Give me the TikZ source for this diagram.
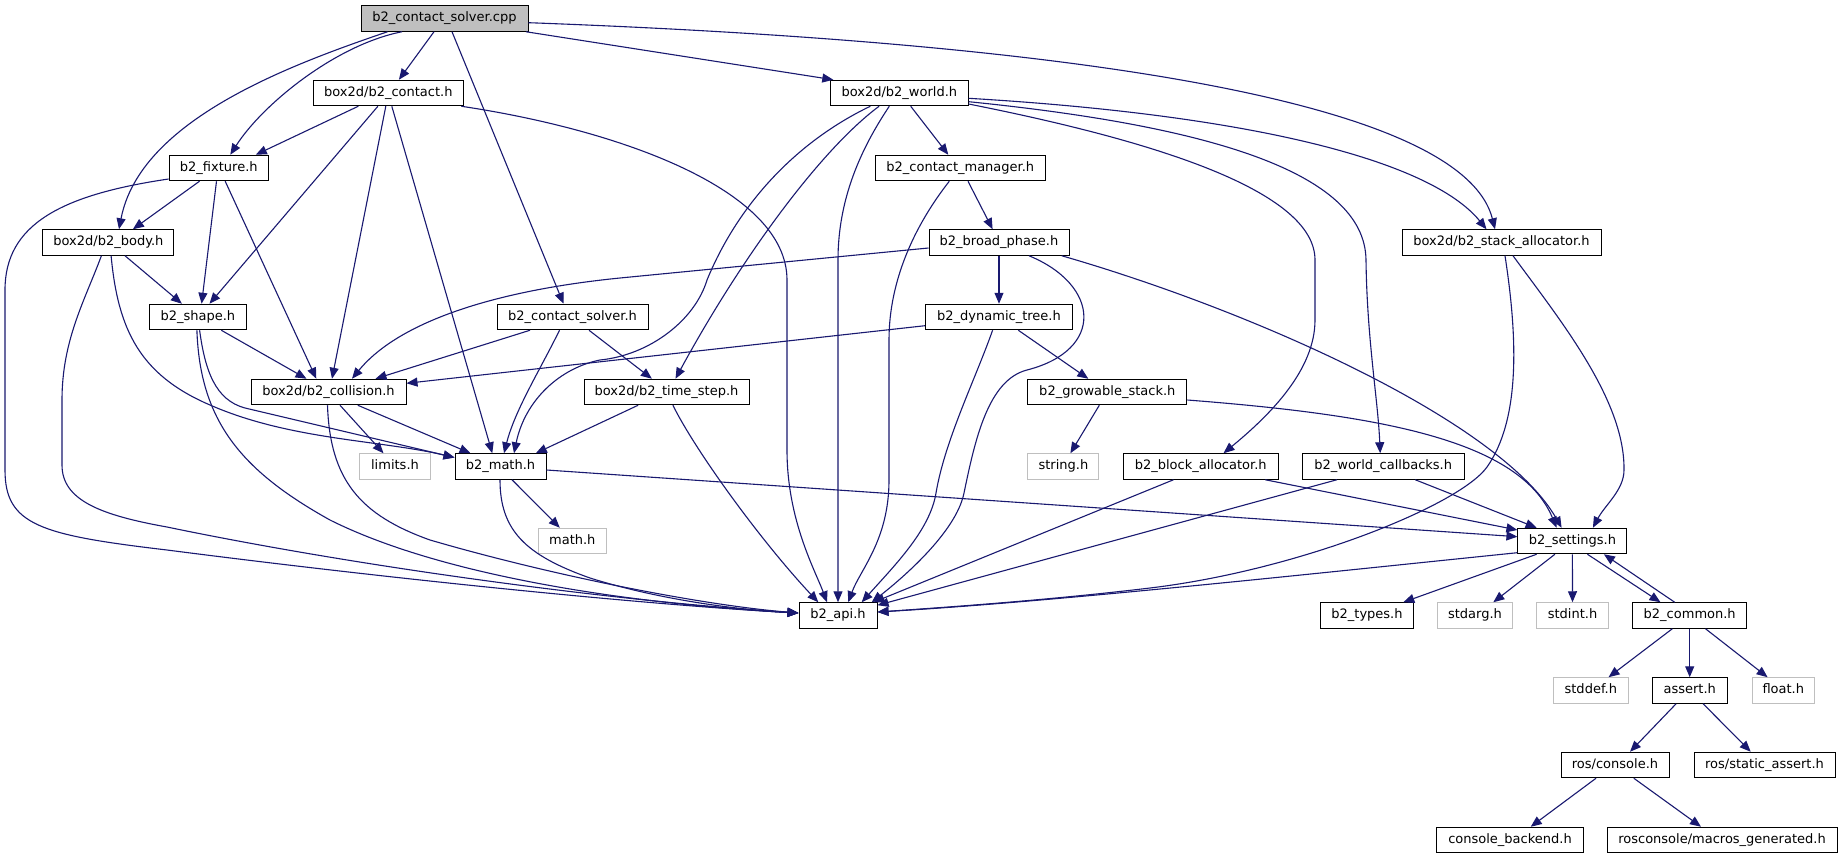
\documentclass[tikz,border=0pt]{standalone}
\usepackage{fontspec}
\setmainfont{DejaVu Sans}
\usetikzlibrary{arrows.meta}

\definecolor{midnight}{HTML}{191970}
\definecolor{grey75}{HTML}{BFBFBF}

\tikzset{
  file/.style={draw=black, fill=white, line width=1pt, inner xsep=2pt, inner ysep=0pt,
    text height=9.5pt, text depth=3pt, minimum height=25.5pt,
    font=\fontsize{13}{15}\selectfont},
  sysfile/.style={file, draw=grey75},
  root/.style={file, fill=grey75},
  dep/.style={draw=midnight, line width=1.1pt, -{Triangle[length=11pt,width=9pt]}},
  links/.style={every edge/.style={dep}},
}

\begin{document}
\begin{tikzpicture}[x=1pt, y=-1pt]
\fill[white] (0,0) rectangle (1842,859);
\useasboundingbox (0,0) rectangle (1842,859);

% files, row by row
\node[root, minimum width=167pt]    (cpp)       at (444.5,18.5) {b2\_contact\_solver.cpp};

\node[file, minimum width=149.5pt]  (contact)   at (388.3,93)   {box2d/b2\_contact.h};
\node[file, minimum width=137.6pt]  (world)     at (899.3,93)   {box2d/b2\_world.h};

\node[file, minimum width=99.5pt]   (fixture)   at (218.8,168)  {b2\_fixture.h};
\node[file, minimum width=169.6pt]  (cmgr)      at (960.3,168)  {b2\_contact\_manager.h};

\node[file, minimum width=131pt]    (body)      at (108.4,242.5) {box2d/b2\_body.h};
\node[file, minimum width=140pt]    (broad)     at (999,242.5)   {b2\_broad\_phase.h};
\node[file, minimum width=199pt]    (stack)     at (1501.5,242.5) {box2d/b2\_stack\_allocator.h};

\node[file, minimum width=97pt]     (shape)     at (197.9,317)  {b2\_shape.h};
\node[file, minimum width=151pt]    (csolver)   at (572.5,317)  {b2\_contact\_solver.h};
\node[file, minimum width=147pt]    (dtree)     at (999,317)    {b2\_dynamic\_tree.h};

\node[file, minimum width=155pt]    (collision) at (328.5,392)  {box2d/b2\_collision.h};
\node[file, minimum width=165pt]    (tstep)     at (666.5,392)  {box2d/b2\_time\_step.h};
\node[file, minimum width=159pt]    (growable)  at (1107.3,392) {b2\_growable\_stack.h};

\node[sysfile, minimum width=71pt]  (limits)    at (395,466.5)    {limits.h};
\node[file, minimum width=91pt]     (bmath)     at (500.5,466.5)  {b2\_math.h};
\node[sysfile, minimum width=71pt]  (stringh)   at (1063.4,466.5) {string.h};
\node[file, minimum width=155pt]    (block)     at (1200.7,466.5) {b2\_block\_allocator.h};
\node[file, minimum width=162pt]    (wcb)       at (1383.2,466.5) {b2\_world\_callbacks.h};

\node[sysfile, minimum width=68.6pt] (mathh)    at (572.3,541)  {math.h};
\node[file, minimum width=109pt]    (settings)  at (1572.4,541) {b2\_settings.h};

\node[file, minimum width=78pt]     (api)       at (838,615.5)    {b2\_api.h};
\node[file, minimum width=93pt]     (types)     at (1367,615.5)   {b2\_types.h};
\node[sysfile, minimum width=75pt]  (stdarg)    at (1475,615.5)   {stdarg.h};
\node[sysfile, minimum width=71.5pt] (stdint)   at (1572.5,615.5) {stdint.h};
\node[file, minimum width=114.5pt]  (common)    at (1689.7,615.5) {b2\_common.h};

\node[sysfile, minimum width=75pt]  (stddef)    at (1590.8,690.5) {stddef.h};
\node[file, minimum width=75pt]     (assert)    at (1689.7,690.5) {assert.h};
\node[sysfile, minimum width=62.5pt] (float)    at (1783.3,690.5) {float.h};

\node[file, minimum width=108pt]    (rconsole)  at (1615,765)   {ros/console.h};
\node[file, minimum width=141pt]    (sassert)   at (1764.5,765) {ros/static\_assert.h};

\node[file, minimum width=146.7pt]  (backend)   at (1510,840)   {console\_backend.h};
\node[file, minimum width=230pt]    (macros)    at (1722,840)   {rosconsole/macros\_generated.h};

% b2_contact_solver.cpp
\path[links]
    ([xshift=-10.5pt]cpp.south) edge ([xshift=10.6pt]contact.north)
    ([xshift=7.5pt]cpp.south)   edge ([xshift=-9pt]csolver.north)
    ([xshift=81.5pt]cpp.south)  edge ([xshift=-66pt]world.north)
    ;
\draw[dep] ([xshift=-42.5pt]cpp.south) .. controls (335,45) and (262,105) .. ([xshift=11.5pt]fixture.north);
\draw[dep] ([xshift=-57pt]cpp.south) .. controls (290,65) and (140,120) .. ([xshift=10.6pt]body.north);
\draw[dep] ([yshift=-4.2pt]cpp.east) .. controls (1000,40) and (1460,90) .. ([xshift=-6.5pt]stack.north);

% box2d/b2_contact.h
\path[links]
    ([xshift=-30pt]contact.south)   edge ([xshift=37pt]fixture.north)
    ([xshift=-10.4pt]contact.south) edge ([xshift=11.6pt]shape.north)
    ([xshift=-2.5pt]contact.south)  edge ([xshift=3.5pt]collision.north)
    ([xshift=3.5pt]contact.south)   edge ([xshift=-8.2pt]bmath.north)
    ;
\draw[dep] ([xshift=73pt]contact.south) .. controls (620,130) and (787,190) .. (787,280)
    -- (787,450) .. controls (787,520) and (815,570) .. ([xshift=-11pt]api.north);

% b2_fixture.h
\path[links]
    ([xshift=-19.3pt]fixture.south) edge ([xshift=24.5pt]body.north)
    ([xshift=-2.3pt]fixture.south)  edge ([xshift=3.7pt]shape.north)
    ([xshift=6.4pt]fixture.south)   edge ([xshift=-12.2pt]collision.north)
    ;
\draw[dep] ([yshift=-11pt]fixture.west) .. controls (60,195) and (5,225) .. (5,290)
    -- (5,470) .. controls (5,525) and (40,535) .. (167,550)
    .. controls (400,580) and (650,605) .. ([yshift=2.5pt]api.west);

% box2d/b2_body.h
\path[links] ([xshift=16.6pt]body.south) edge ([xshift=-16pt]shape.north);
\draw[dep] ([xshift=2.7pt]body.south) .. controls (118,330) and (140,375) .. (210,405)
    .. controls (290,440) and (380,440) .. ([yshift=9pt]bmath.west);
\draw[dep] ([xshift=-7pt]body.south) .. controls (85,300) and (62,340) .. (62,400)
    -- (62,465) .. controls (62,500) and (100,515) .. (167,527)
    .. controls (350,565) and (600,600) .. ([yshift=2.5pt]api.west);

% b2_shape.h
\path[links] ([xshift=23.4pt]shape.south) edge ([xshift=-22pt]collision.north);
\draw[dep] ([xshift=1.7pt]shape.south) .. controls (205,370) and (215,400) .. (245,408)
    -- ([yshift=9pt]bmath.west);
\draw[dep] ([xshift=-1pt]shape.south) .. controls (200,420) and (240,470) .. (330,520)
    .. controls (450,580) and (650,605) .. ([yshift=2.5pt]api.west);

% box2d/b2_collision.h
\path[links]
    ([xshift=11.5pt]collision.south) edge ([xshift=-11.5pt]limits.north)
    ([xshift=29.3pt]collision.south) edge ([xshift=-30pt]bmath.north)
    ;
\draw[dep] ([xshift=-1pt]collision.south) .. controls (330,480) and (360,515) .. (430,540)
    .. controls (550,575) and (700,605) .. ([yshift=2.5pt]api.west);

% b2_contact_solver.h
\path[links]
    ([xshift=-42.5pt]csolver.south) edge ([xshift=47pt]collision.north)
    ([xshift=16.5pt]csolver.south)  edge ([xshift=-14.6pt]tstep.north)
    ;
\draw[dep] ([xshift=-13pt]csolver.south) .. controls (540,370) and (515,410) .. ([xshift=3.5pt]bmath.north);

% box2d/b2_world.h
\path[links] ([xshift=11.4pt]world.south) edge ([xshift=-12pt]cmgr.north);
\draw[dep] ([xshift=-29pt]world.south) .. controls (800,140) and (740,200) .. (707,280)
    .. controls (695,320) and (650,355) .. (600,360)
    .. controls (560,368) and (525,400) .. ([xshift=13.5pt]bmath.north);
\draw[dep] ([xshift=-20.2pt]world.south) .. controls (820,150) and (740,260) .. ([xshift=9pt]tstep.north);
\draw[dep] ([xshift=-10pt]world.south) .. controls (860,150) and (838,200) .. (838,260) -- (api.north);
\draw[dep] ([yshift=-5.3pt]world.east) .. controls (1250,115) and (1430,160) .. ([xshift=-15pt]stack.north);
\draw[dep] ([yshift=-8.7pt]world.east) .. controls (1200,125) and (1365,170) .. (1366,260)
    .. controls (1367,340) and (1378,400) .. ([xshift=-3pt]wcb.north);
\draw[dep] ([yshift=-11pt]world.east) .. controls (1150,140) and (1315,190) .. (1315,260)
    -- (1315,320) .. controls (1315,370) and (1270,415) .. ([xshift=22.8pt]block.north);

% b2_contact_manager.h
\path[links] ([xshift=7.7pt]cmgr.south) edge ([xshift=-6.4pt]broad.north);
\draw[dep] ([xshift=-11pt]cmgr.south) .. controls (915,225) and (889,280) .. (889,340)
    -- (889,480) .. controls (889,540) and (860,570) .. ([xshift=10.3pt]api.north);

% b2_broad_phase.h
\path[links] (broad.south) edge (dtree.north);
\draw[dep] ([yshift=-5.5pt]broad.west) -- (620,278) .. controls (500,290) and (400,320) .. ([xshift=23.5pt]collision.north);
\draw[dep] ([xshift=30pt]broad.south) .. controls (1100,285) and (1105,350) .. (1027,370)
    .. controls (988,380) and (975,440) .. (964,493)
    .. controls (956,533) and (900,580) .. ([xshift=33.7pt]api.north);
\draw[dep] ([xshift=62.7pt]broad.south) .. controls (1250,310) and (1500,420) .. ([xshift=-10.8pt]settings.north);

% box2d/b2_stack_allocator.h
\draw[dep] ([xshift=3.5pt]stack.south) .. controls (1518,340) and (1520,420) .. (1487,467)
    .. controls (1460,505) and (1300,570) .. (1150,588)
    .. controls (1050,600) and (950,607) .. ([yshift=3.5pt]api.east);
\draw[dep] ([xshift=11.5pt]stack.south) .. controls (1560,320) and (1625,400) .. (1624,470)
    .. controls (1624,490) and (1605,505) .. ([xshift=20.5pt]settings.north);

% b2_dynamic_tree.h
\path[links]
    ([yshift=-8.7pt]dtree.west)  edge ([yshift=8.7pt]collision.east)
    ([xshift=19.3pt]dtree.south) edge ([xshift=-19pt]growable.north)
    ;
\draw[dep] ([xshift=-6.4pt]dtree.south) .. controls (975,380) and (945,440) .. (936,493)
    .. controls (930,530) and (895,565) .. ([xshift=23.7pt]api.north);

% b2_growable_stack.h
\path[links] ([xshift=-8pt]growable.south) edge ([xshift=7pt]stringh.north);
\draw[dep] ([yshift=-8pt]growable.east) .. controls (1380,415) and (1520,440) .. ([xshift=-15.8pt]settings.north);

% box2d/b2_time_step.h
\path[links] ([xshift=-28.4pt]tstep.south) edge ([xshift=35.3pt]bmath.north);
\draw[dep] ([xshift=6.4pt]tstep.south) .. controls (695,450) and (760,540) .. ([xshift=-19.7pt]api.north);

% b2_math.h
\path[links]
    ([xshift=11.5pt]bmath.south) edge ([xshift=-12.5pt]mathh.north)
    ([yshift=-3.5pt]bmath.east)  edge ([yshift=4.3pt]settings.west)
    ;
\draw[dep] ([xshift=-0.5pt]bmath.south) .. controls (500,530) and (525,555) .. (590,578)
    .. controls (660,600) and (740,610) .. ([yshift=2.5pt]api.west);

% allocator and callbacks
\path[links]
    ([xshift=-27.2pt]block.south) edge ([xshift=-4pt]api.north east)
    ([xshift=64.5pt]block.south)  edge ([yshift=11pt]settings.west)
    ([xshift=-46.3pt]wcb.south)   edge ([yshift=-3pt]api.north east)
    ([xshift=32pt]wcb.south)      edge ([xshift=-35.8pt]settings.north)
    ;

% b2_settings.h
\draw[dep] ([yshift=-11.7pt]settings.west) .. controls (1300,575) and (1050,602) .. ([yshift=3.5pt]api.east);
\path[links]
    ([xshift=-35.8pt]settings.south) edge ([xshift=36.3pt]types.north)
    ([xshift=-17.5pt]settings.south) edge ([xshift=18.3pt]stdarg.north)
    (settings.south)                 edge (stdint.north)
    ([xshift=15pt]settings.south)    edge ([xshift=-29.2pt]common.north)
    ([xshift=-15pt]common.north)     edge ([xshift=31.5pt]settings.south)
    ;

% b2_common.h and below
\path[links]
    ([xshift=-17.4pt]common.south)  edge ([xshift=17.7pt]stddef.north)
    (common.south)                  edge (assert.north)
    ([xshift=15.8pt]common.south)   edge ([xshift=-15.7pt]float.north)
    ([xshift=-13.6pt]assert.south)  edge ([xshift=15pt]rconsole.north)
    ([xshift=13.4pt]assert.south)   edge ([xshift=-13.8pt]sassert.north)
    ([xshift=-19pt]rconsole.south)  edge ([xshift=20.7pt]backend.north)
    ([xshift=18.8pt]rconsole.south) edge ([xshift=-21pt]macros.north)
    ;
\end{tikzpicture}
\end{document}
